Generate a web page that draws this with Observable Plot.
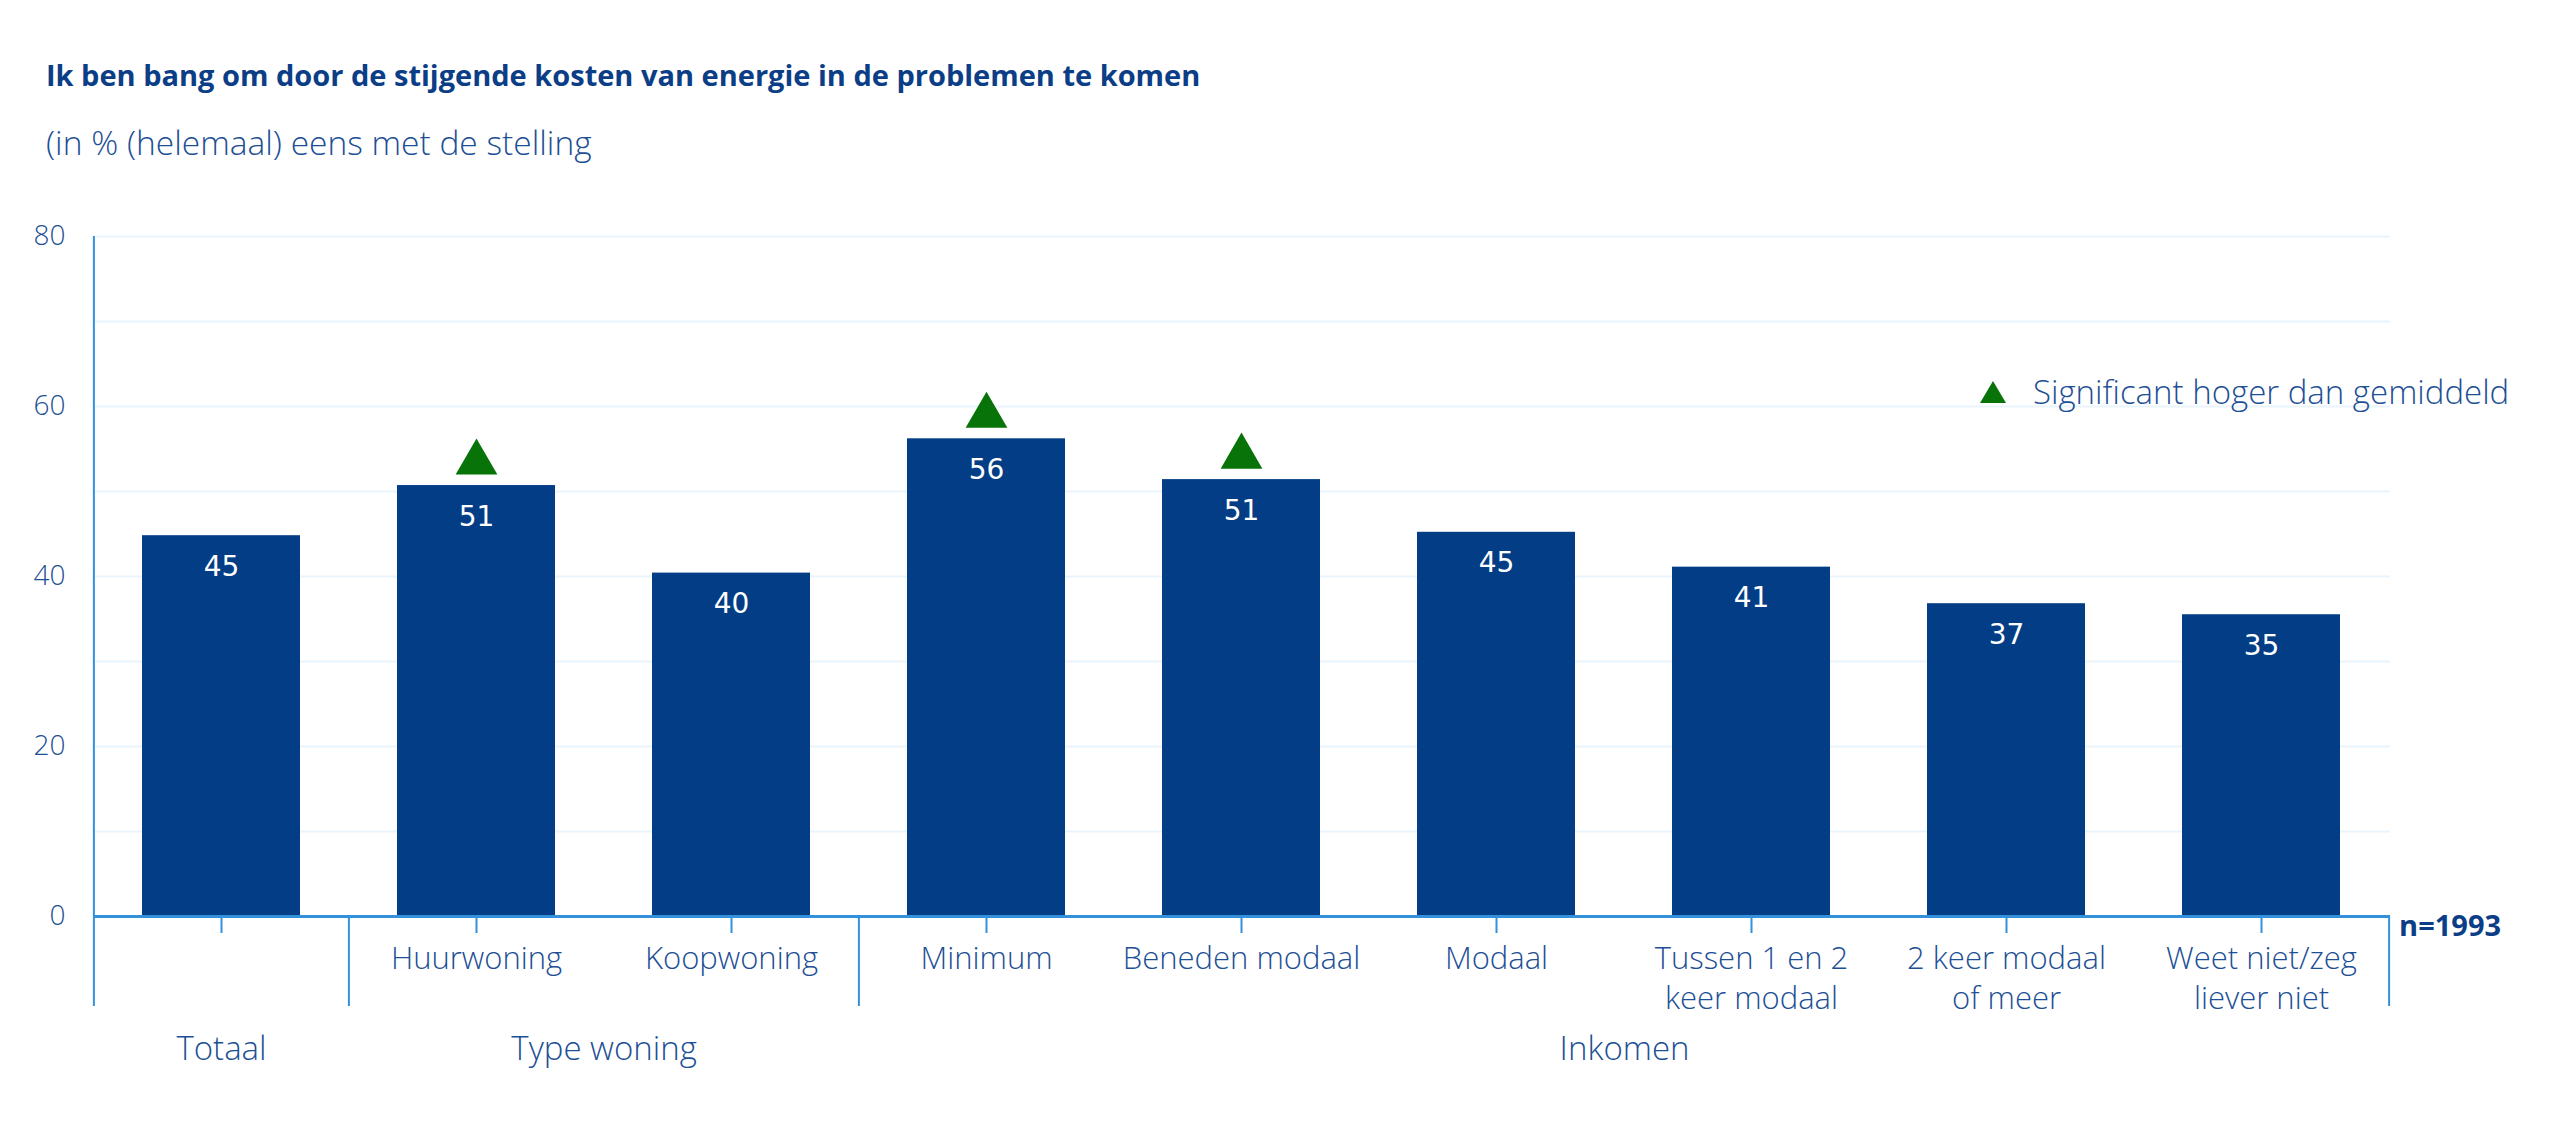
<!DOCTYPE html>
<html>
<head>
<meta charset="utf-8">
<script src="https://cdn.jsdelivr.net/npm/d3@7"></script>
<script src="https://cdn.jsdelivr.net/npm/@observablehq/plot@0.6"></script>
<style>
  html, body { margin: 0; padding: 0; background: #fff; }
  #wrap { position: relative; width: 2560px; height: 1126px; font-family: "Open Sans", "Noto Sans", sans-serif; }
  #head { position: relative; height: 180px; }
  #title { position: absolute; left: 46px; top: 55px; font-size: 29px; font-weight: 700; color: #0b3e86; white-space: nowrap; }
  #subtitle { position: absolute; left: 46px; top: 119px; font-size: 33.5px; font-weight: 300; color: #1d4f95; white-space: nowrap; }
  #legend { position: absolute; left: 1980px; top: 369px; display: flex; align-items: center; font-size: 33px; font-weight: 300; color: #1d4f95; white-space: nowrap; }
  #legend svg { margin-right: 27px; }
</style>
</head>
<body>
<div id="wrap">
  <div id="head">
    <div id="title"></div>
    <div id="subtitle"></div>
  </div>
  <div id="chart"></div>
  <div id="legend"></div>
</div>
<script>
// ---- data ----
const titleText = "Ik ben bang om door de stijgende kosten van energie in de problemen te komen";
const subtitleText = "(in % (helemaal) eens met de stelling";
const legendText = "Significant hoger dan gemiddeld";
const sampleText = "n=1993";

const categories = ["Totaal", "Huurwoning", "Koopwoning", "Minimum", "Beneden modaal", "Modaal", "Tussen 1 en 2 keer modaal", "2 keer modaal of meer", "Weet niet/zeg liever niet"];
const tickLabels = ["", "Huurwoning", "Koopwoning", "Minimum", "Beneden modaal", "Modaal", "Tussen 1 en 2\nkeer modaal", "2 keer modaal\nof meer", "Weet niet/zeg\nliever niet"];
const values = [44.8, 50.7, 40.4, 56.2, 51.4, 45.2, 41.1, 36.8, 35.5];
const valueLabels = [45, 51, 40, 56, 51, 45, 41, 37, 35];
const significant = [false, true, false, true, true, false, false, false, false];

const groupNames = ["Totaal", "Type woning", "Inkomen"];
const groupFirst = ["Totaal", "Huurwoning", "Minimum"];
const groupSize = [1, 2, 6];

const yTicks = [0, 20, 40, 60, 80];
const gridTicks = [10, 20, 30, 40, 50, 60, 70, 80];

// ---- styles ----
const barColor = "#023d85";
const green = "#087308";
const axisBlue = "#3391dc";
const textBlue = "#1d4f95";
const gridColor = "#eaf4fc";

document.getElementById("title").textContent = titleText;
document.getElementById("subtitle").textContent = subtitleText;
document.getElementById("legend").innerHTML =
  `<svg width="26" height="22" viewBox="0 0 26 22"><path d="M13 0 L26 22 L0 22 Z" fill="${green}"/></svg><span></span>`;
document.querySelector("#legend span").textContent = legendText;

const rows = categories.map((c, i) => ({cat: c, value: values[i], label: String(valueLabels[i]), sig: significant[i]}));
const groups = groupNames.map((g, i) => ({name: g, first: groupFirst[i], size: groupSize[i]}));

const W = 2560, H = 946, ML = 93, MR = 170, MT = 56, MB = 210;
const step = (W - ML - MR) / categories.length;
const below = 90;
const fontFam = '"Open Sans", "Noto Sans", sans-serif';

const plot = Plot.plot({
  width: W,
  height: H,
  marginLeft: ML,
  marginRight: MR,
  marginTop: MT,
  marginBottom: MB,
  style: {fontFamily: fontFam, background: "#fff", overflow: "visible"},
  x: {domain: categories, paddingInner: 0.38, paddingOuter: 0.19, axis: null},
  y: {domain: [0, 80], axis: null},
  marks: [
    Plot.ruleY(gridTicks, {stroke: gridColor, strokeWidth: 2}),
    Plot.barY(rows, {x: "cat", y: "value", fill: barColor}),
    Plot.text(rows, {x: "cat", y: "value", text: "label", fill: "white", fontSize: 28, dy: 31, fontFamily: "DejaVu Sans, Verdana, sans-serif"}),
    Plot.dot(rows.filter(d => d.sig), {x: "cat", y: "value", symbol: "triangle", r: 15.5, fill: green, dy: -23}),
    // y axis labels
    Plot.axisY({ticks: yTicks, tickSize: 0, tickPadding: 28, fontSize: 28, fill: textBlue, fontWeight: 300, label: null}),
    // x axis ticks + labels
    Plot.axisX({tickSize: 17, tickPadding: 7, stroke: axisBlue, strokeWidth: 2, fontSize: 31, fill: textBlue, fontWeight: 300, lineHeight: 1.3, label: null, tickFormat: (d) => tickLabels[categories.indexOf(d)]}),
    // baseline
    Plot.ruleY([0], {stroke: axisBlue, strokeWidth: 3}),
    // y axis line extended below
    Plot.ruleX([categories[0]], {x: d => d, y1: 80, y2: 0, dx: -step / 2, insetBottom: -below, stroke: axisBlue, strokeWidth: 2}),
    // group separators
    Plot.ruleX(groupFirst.slice(1), {x: d => d, y1: 0, y2: 0, dx: -step / 2, insetBottom: -below, stroke: axisBlue, strokeWidth: 2}),
    Plot.ruleX([categories[categories.length - 1]], {x: d => d, y1: 0, y2: 0, dx: step / 2, insetBottom: -below, stroke: axisBlue, strokeWidth: 2}),
    // group labels, centred on their group of bands
    ...groups.map(g => Plot.text([g], {x: "first", y: () => 0, text: "name", dx: (g.size - 1) * step / 2, dy: 133, fontSize: 33, fill: textBlue, fontWeight: 300})),
    // sample size
    Plot.text([sampleText], {x: () => categories[categories.length - 1], y: () => 0, text: d => d, dx: step / 2 + 10, dy: 10, textAnchor: "start", fontSize: 29, fontWeight: 700, fill: "#0b3e86"})
  ]
});

document.getElementById("chart").appendChild(plot);
</script>
</body>
</html>
